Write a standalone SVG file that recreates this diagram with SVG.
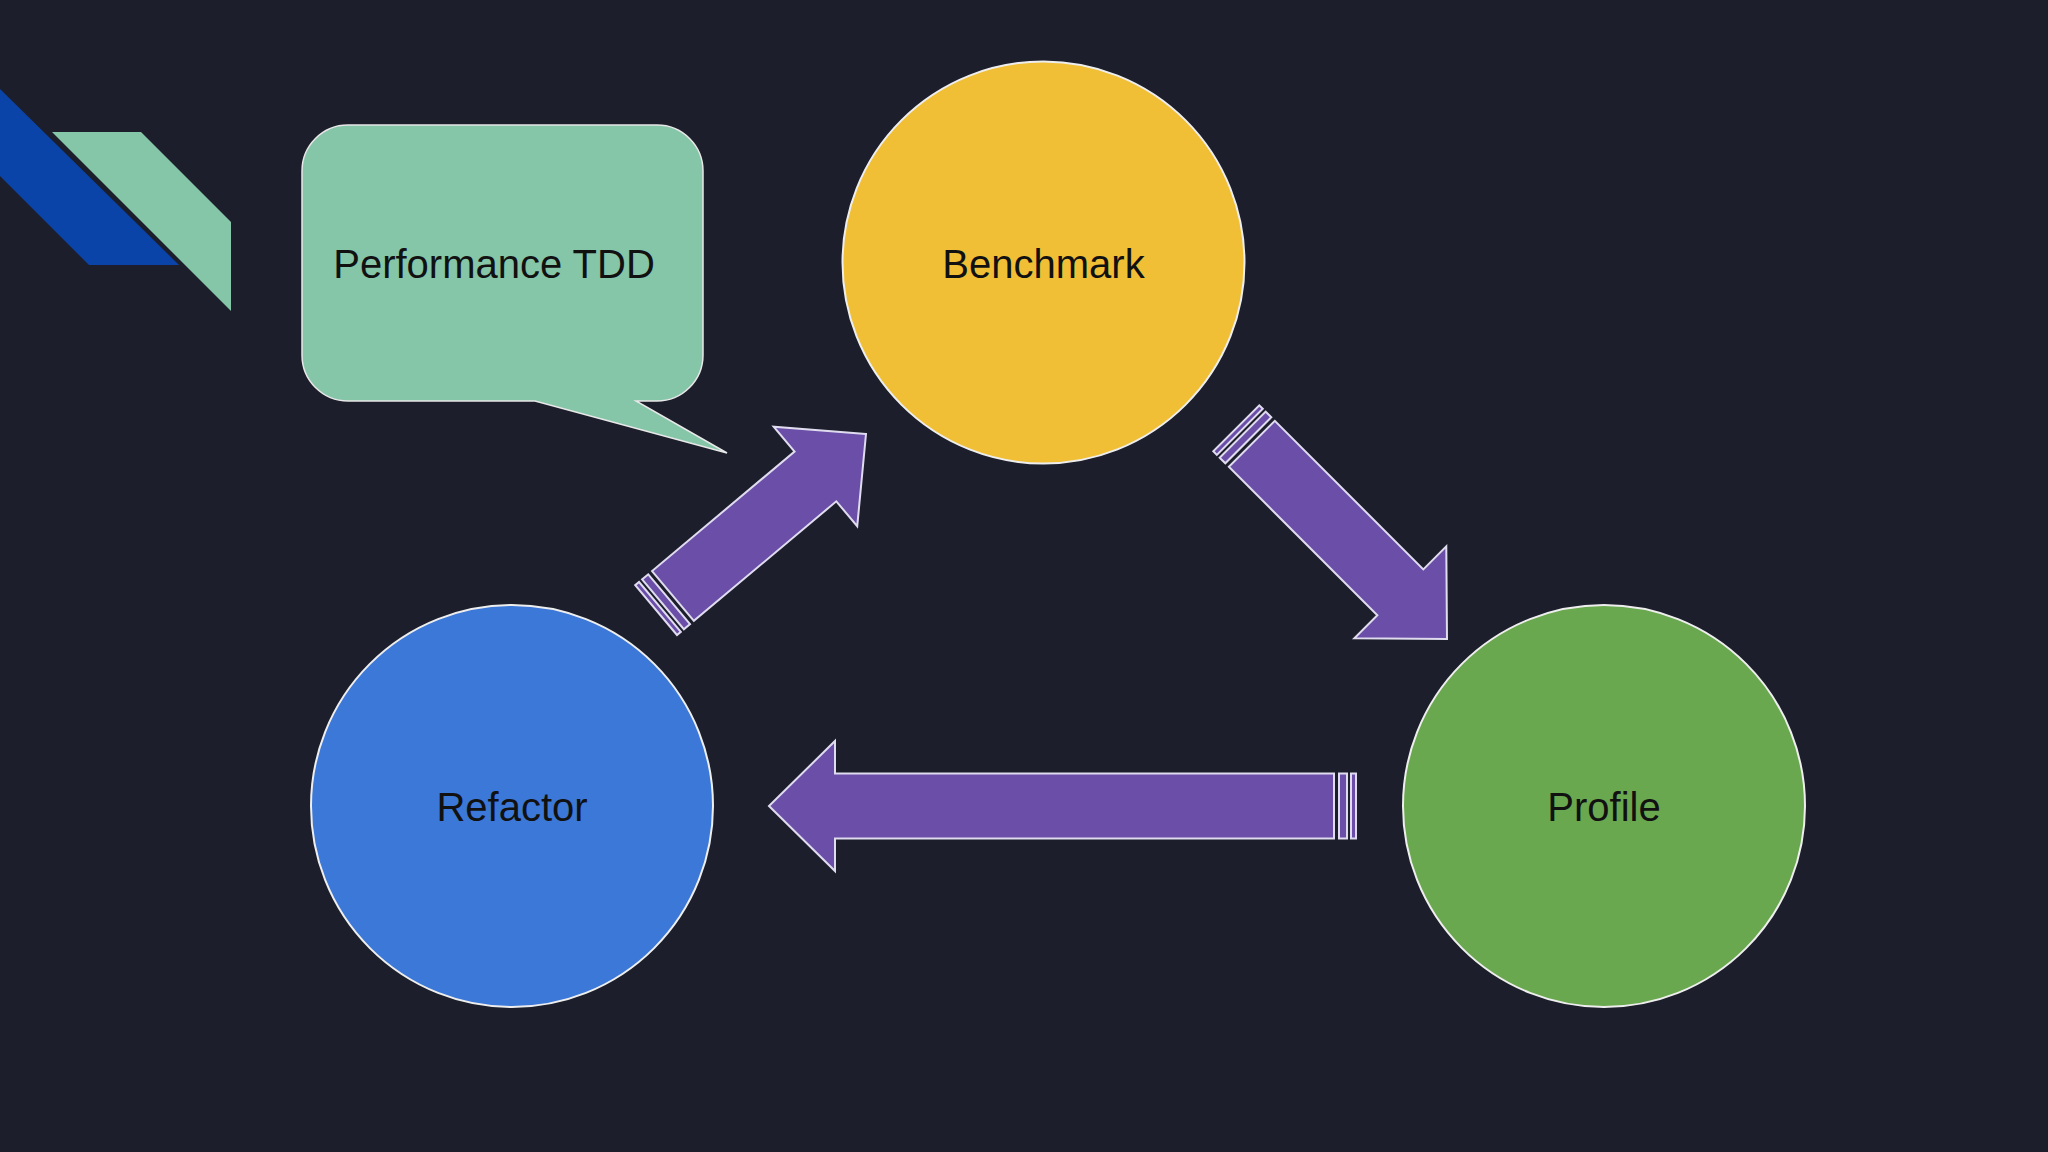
<svg xmlns="http://www.w3.org/2000/svg" width="2048" height="1152" viewBox="0 0 2048 1152">
<style>
.lbl{font-family:"Liberation Sans",Arial,sans-serif;font-size:40px;fill:#111;text-anchor:middle;dominant-baseline:central}
.arr{fill:#6a4ea8;stroke:#e0dcf0;stroke-width:2}
.nd{stroke:#eeeeee;stroke-width:2}
</style>
<defs>
<g id="arrowTip">
<path class="arr" d="M0,0 L-66,-65 L-66,-32.5 L-565,-32.5 L-565,32.5 L-66,32.5 L-66,65 Z"/>
<rect class="arr" x="-578" y="-32.5" width="8" height="65"/>
<rect class="arr" x="-587" y="-32.5" width="5" height="65"/>
</g>
<g id="arrowShort">
<path class="arr" d="M0,0 L-66,-65 L-66,-32.5 L-276,-32.5 L-276,32.5 L-66,32.5 L-66,65 Z"/>
<rect class="arr" x="-289" y="-32.5" width="8" height="65"/>
<rect class="arr" x="-298" y="-32.5" width="5" height="65"/>
</g>
<g id="arrowShorter">
<path class="arr" d="M0,0 L-66,-65 L-66,-32.5 L-252,-32.5 L-252,32.5 L-66,32.5 L-66,65 Z"/>
<rect class="arr" x="-265" y="-32.5" width="8" height="65"/>
<rect class="arr" x="-274" y="-32.5" width="5" height="65"/>
</g>
</defs>
<rect width="2048" height="1152" fill="#1c1f2b"/>
<g id="decor">
<polygon points="0,89 179,265 89,265 0,176" fill="#0a44a8"/>
<polygon points="52,132 141,132 231,222 231,311" fill="#85c5a8"/>
</g>
<g id="connectors">
<use href="#arrowTip" transform="translate(769,806) rotate(180)"/>
<use href="#arrowShort" transform="translate(1447,639) rotate(45)"/>
<use href="#arrowShorter" transform="translate(866,434) rotate(-40)"/>
</g>
<g id="callout">
<path d="M348,125 H657 A46,46 0 0 1 703,171 V355 A46,46 0 0 1 657,401 H636 L727,453 L535,401 H348 A46,46 0 0 1 302,355 V171 A46,46 0 0 1 348,125 Z" fill="#85c5a8" stroke="#e8e8e8" stroke-width="1.5"/>
<text class="lbl" x="494" y="264">Performance TDD</text>
</g>
<g id="benchmark">
<circle class="nd" cx="1043.5" cy="262.5" r="201" fill="#f0bf36"/>
<text class="lbl" x="1043.5" y="264">Benchmark</text>
</g>
<g id="refactor">
<circle class="nd" cx="512" cy="806" r="201" fill="#3c78d8"/>
<text class="lbl" x="512" y="807">Refactor</text>
</g>
<g id="profile">
<circle class="nd" cx="1604" cy="806" r="201" fill="#6aa84f"/>
<text class="lbl" x="1604" y="807">Profile</text>
</g>
</svg>
